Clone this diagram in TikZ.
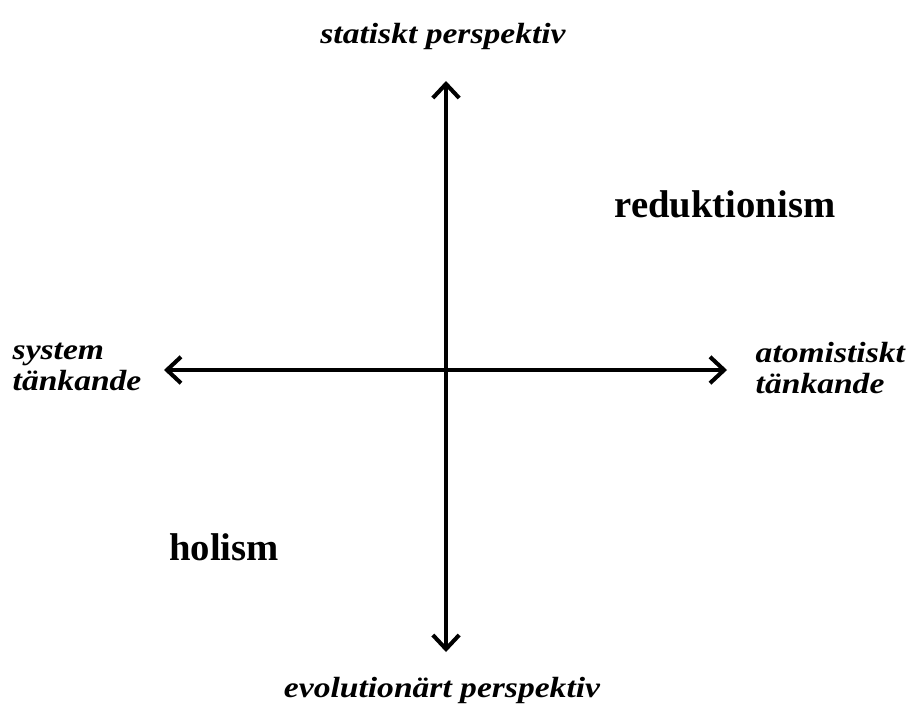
\documentclass[tikz,border=0pt]{standalone}
\usepackage{fontspec}
\setmainfont{Liberation Serif}
\newfontfamily\polefont[FakeStretch=1.15]{Liberation Serif}
\usetikzlibrary{arrows.meta}

\begin{document}
\begin{tikzpicture}[
    x=0.01cm, y=-0.01cm,
    axis/.style={line width=1.15pt, -{Straight Barb[length=4pt,width=7.5pt]}},
    pole/.style={font=\polefont\fontsize{8.3}{9}\selectfont\bfseries\itshape, inner sep=0pt},
    camp/.style={font=\fontsize{11}{13}\selectfont\bfseries, inner sep=0pt}
]

    \useasboundingbox (0,0) rectangle (910,709);

    \coordinate (O) at (446,370);

    \node[pole, anchor=base] (statisk) at (443,43) {statiskt perspektiv};
    \node[pole, anchor=base] (evolution) at (442,697) {evolution\"art perspektiv};
    \node[pole, anchor=west, align=left] (system) at (12,367) {system\\t\"ankande};
    \node[pole, anchor=west, align=left] (atom) at (755,368) {atomistiskt\\t\"ankande};

    \node[camp, anchor=base] (reduk) at (725,217) {reduktionism};
    \node[camp, anchor=base] (holism) at (224,560) {holism};

    \coordinate (top) at (446,81);
    \coordinate (bottom) at (446,652);
    \coordinate (left) at (164,370);
    \coordinate (right) at (727,370);

    \draw[axis] (O) -- (top);
    \draw[axis] (O) -- (bottom);
    \draw[axis] (O) -- (left);
    \draw[axis] (O) -- (right);

\end{tikzpicture}
\end{document}
